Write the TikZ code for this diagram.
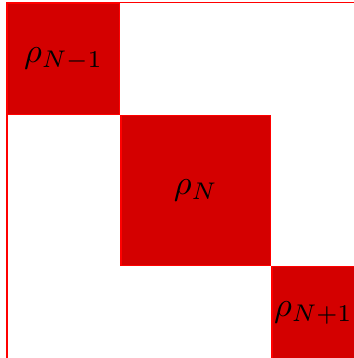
\documentclass[tikz,border=0pt]{standalone}
\usepackage{amsmath,amssymb}
\usepackage{xcolor}
\usetikzlibrary{positioning}
\definecolor{blockred}{HTML}{D40000}
\tikzset{block/.style={draw=red,thin,fill=blockred,inner sep=0pt}}

\begin{document}
\begin{tikzpicture}[node distance=0pt and 0pt, every node/.style={font=\normalsize}]
\useasboundingbox (0pt,0pt) rectangle (102.6pt,-104.05pt);
\node[block,anchor=north west,minimum width=32.5pt,minimum height=32.3pt,label=center:$\rho_{N-1}$] (prev) at (2.03pt,-0.73pt) {};
\node[block,below right=of prev.south east,minimum width=43.5pt,minimum height=43.5pt,label=center:$\rho_{N}$] (curr) {};
\node[block,below right=of curr.south east,minimum width=24.2pt,minimum height=26.7pt,label=center:$\rho_{N+1}$] (next) {};
\draw[red,thin] (prev.north west) rectangle (next.south east);
\end{tikzpicture}
\end{document}
